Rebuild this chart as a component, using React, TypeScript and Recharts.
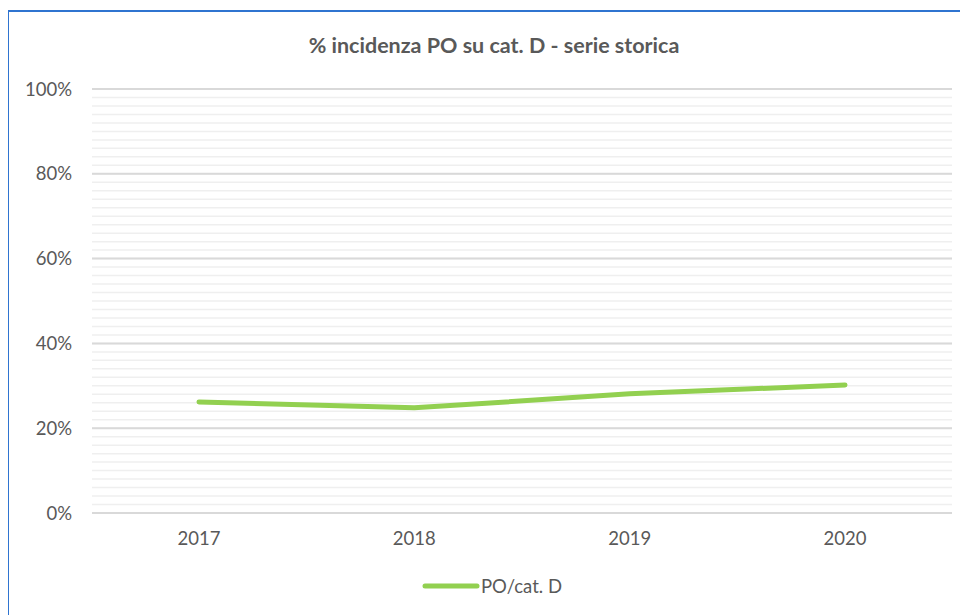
import { LineChart, Line, XAxis, YAxis, CartesianGrid, Legend, ReferenceLine } from 'recharts';

const YEARS = ['2017', '2018', '2019', '2020'];
const INCIDENZA = [26.2, 24.8, 28.1, 30.2];
const MAJOR_TICKS = [0, 20, 40, 60, 80, 100];
const MINOR_TICKS = [
  0, 2, 4, 6, 8, 10, 12, 14, 16, 18, 20, 22, 24, 26, 28, 30, 32, 34, 36, 38, 40, 42, 44, 46, 48, 50,
  52, 54, 56, 58, 60, 62, 64, 66, 68, 70, 72, 74, 76, 78, 80, 82, 84, 86, 88, 90, 92, 94, 96, 98, 100,
];

const FONT = 'Lato, "Open Sans", sans-serif';
const GREEN = '#92d050';
const TEXT = '#595959';

const data = YEARS.map((year, i) => ({ year, value: INCIDENZA[i] }));

function LegendContent() {
  return (
    <div style={{ display: 'flex', justifyContent: 'center', alignItems: 'center', height: 24 }}>
      <svg width={58} height={10}>
        <line x1={3} y1={5} x2={55} y2={5} stroke={GREEN} strokeWidth={5} strokeLinecap="round" />
      </svg>
      <span style={{ fontFamily: FONT, fontSize: 18.5, color: TEXT, marginLeft: 1 }}>PO/cat. D</span>
    </div>
  );
}

function App() {
  return (
    <div style={{ position: 'relative', width: 960, height: 607 }}>
      {/* bordo del riquadro, tagliato a destra e in basso */}
      <div
        style={{
          position: 'absolute',
          left: -1,
          top: 2,
          width: 1000,
          height: 700,
          borderLeft: '2px solid #2f74d0',
          borderTop: '2px solid #2f74d0',
          pointerEvents: 'none',
        }}
      />
      <div
        style={{
          position: 'absolute',
          left: 0,
          top: 24,
          width: 972,
          textAlign: 'center',
          fontFamily: FONT,
          fontWeight: 'bold',
          fontSize: 21.5,
          color: TEXT,
        }}
      >
        % incidenza PO su cat. D - serie storica
      </div>
      <LineChart width={960} height={607} data={data} margin={{ top: 81, right: 16, left: 24, bottom: 48 }}>
        <CartesianGrid horizontal={true} vertical={false} stroke="#efefef" strokeWidth={1.5} />
        {MAJOR_TICKS.map((t) => (
          <ReferenceLine key={t} y={t} stroke="#d9d9d9" strokeWidth={2} />
        ))}
        <XAxis
          dataKey="year"
          axisLine={false}
          tickLine={false}
          height={30}
          tickMargin={13}
          padding={{ left: 107, right: 107 }}
          tick={{ fill: TEXT, fontSize: 18.5, fontFamily: FONT }}
        />
        <YAxis
          domain={[0, 100]}
          ticks={MINOR_TICKS}
          interval={0}
          axisLine={false}
          tickLine={false}
          width={60}
          tickMargin={14}
          tickFormatter={(v: number) => (v % 20 === 0 ? `${v}%` : '')}
          tick={{ fill: TEXT, fontSize: 18.5, fontFamily: FONT }}
        />
        <Legend verticalAlign="bottom" content={<LegendContent />} wrapperStyle={{ bottom: 17 }} />
        <Line
          type="linear"
          dataKey="value"
          name="PO/cat. D"
          stroke={GREEN}
          strokeWidth={5}
          strokeLinecap="round"
          dot={false}
          activeDot={false}
          isAnimationActive={false}
        />
      </LineChart>
    </div>
  );
}

export default App;
